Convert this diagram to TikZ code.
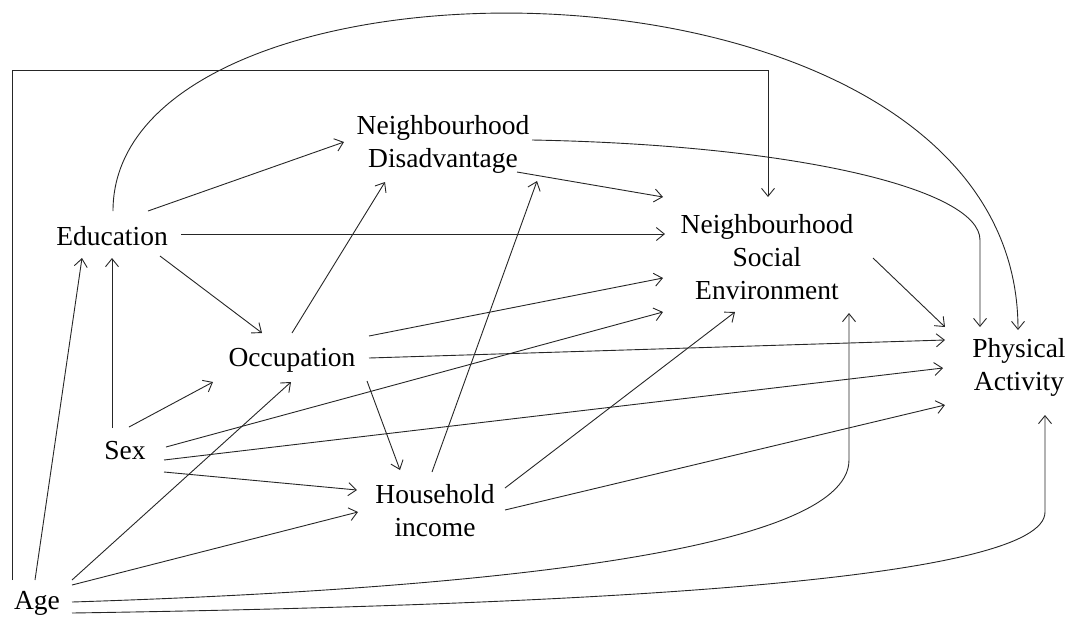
\documentclass[tikz,border=0pt]{standalone}
\usepackage{fontspec}
\setmainfont{Liberation Serif}
\usetikzlibrary{arrows.meta}
\begin{document}
\begin{tikzpicture}[x=1pt,y=-1pt,
  lbl/.style={inner sep=0pt,align=center,font=\fontsize{27.5}{33}\selectfont},
  conn/.style={line width=0.9pt,draw=black!85,-{Straight Barb[length=8pt,width=13pt,line width=0.9pt]}}]
\useasboundingbox (0,0) rectangle (1069,619);
\node[lbl] (edu) at (112,236) {Education};
\node[lbl] (nd)  at (443,144) {Neighbourhood\\Disadvantage};
\node[lbl] (nse) at (767,257) {Neighbourhood\\Social\\Environment};
\node[lbl] (occ) at (292,360) {Occupation};
\node[lbl] (pa)  at (1019,367) {Physical\\Activity};
\node[lbl] (sex) at (125,451) {Sex};
\node[lbl] (hh)  at (435,511) {Household\\income};
\node[lbl] (age) at (37,603) {Age};
% Education
\draw[conn] ([shift={(36,-25)}]edu.center) -- ([shift={(-99,-2)}]nd.center);
\draw[conn] ([shift={(69,-2)}]edu.center) -- ([shift={(-102,-23)}]nse.center);
\draw[conn] ([shift={(48,20)}]edu.center) -- ([shift={(-30,-27)}]occ.center);
\draw[conn] ([shift={(1,-25)}]edu.center) .. controls (113,-70) and (1018,-70) .. ([shift={(-1,-37)}]pa.center);
% Neighbourhood disadvantage
\draw[conn] ([shift={(74,28)}]nd.center) -- ([shift={(-104,-60)}]nse.center);
\draw[conn] ([shift={(89,-4)}]nd.center) .. controls (800,145) and (980,190) .. (980,240) -- ([shift={(-39,-40)}]pa.center);
% Neighbourhood social environment
\draw[conn] ([shift={(106,1)}]nse.center) -- ([shift={(-74,-40)}]pa.center);
% Occupation
\draw[conn] ([shift={(0,-27)}]occ.center) -- ([shift={(-58,38)}]nd.center);
\draw[conn] ([shift={(77,-24)}]occ.center) -- ([shift={(-104,21)}]nse.center);
\draw[conn] ([shift={(77,-2)}]occ.center) -- ([shift={(-74,-27)}]pa.center);
\draw[conn] ([shift={(75,21)}]occ.center) -- ([shift={(-35,-41)}]hh.center);
% Sex
\draw[conn] ([shift={(-13,-23)}]sex.center) -- ([shift={(0,22)}]edu.center);
\draw[conn] ([shift={(4,-24)}]sex.center) -- ([shift={(-79,22)}]occ.center);
\draw[conn] ([shift={(41,-4)}]sex.center) -- ([shift={(-104,55)}]nse.center);
\draw[conn] ([shift={(39,9)}]sex.center) -- ([shift={(-76,1)}]pa.center);
\draw[conn] ([shift={(39,21)}]sex.center) -- ([shift={(-78,-21)}]hh.center);
% Household income
\draw[conn] ([shift={(-3,-39)}]hh.center) -- ([shift={(94,37)}]nd.center);
\draw[conn] ([shift={(70,-23)}]hh.center) -- ([shift={(-32,55)}]nse.center);
\draw[conn] ([shift={(70,-1)}]hh.center) -- ([shift={(-74,38)}]pa.center);
% Age
\draw[conn] ([shift={(-2,-23)}]age.center) -- ([shift={(-30,22)}]edu.center);
\draw[conn] ([shift={(35,-23)}]age.center) -- ([shift={(-1,22)}]occ.center);
\draw[conn] ([shift={(35,-18)}]age.center) -- ([shift={(-77,1)}]hh.center);
\draw[conn] ([shift={(35,-1)}]age.center) .. controls (450,590) and (849,555) .. (849,460) -- ([shift={(82,56)}]nse.center);
\draw[conn] ([shift={(35,10)}]age.center) .. controls (600,605) and (1045,580) .. (1045,512) -- ([shift={(26,48)}]pa.center);
\draw[conn] ([shift={(-25,-23)}]age.center) -- ++(0,-510) -| ([shift={(1,-60)}]nse.center);
\end{tikzpicture}
\end{document}
